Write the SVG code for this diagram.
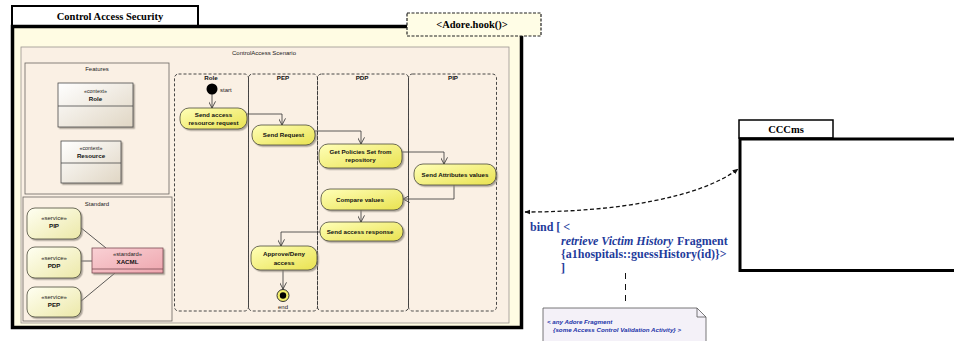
<svg xmlns="http://www.w3.org/2000/svg" width="954" height="341" viewBox="0 0 954 341">
  <defs>
    <linearGradient id="gAction" x1="0" y1="0" x2="1" y2="1">
      <stop offset="0" stop-color="#FFFFB8"/>
      <stop offset="1" stop-color="#E9E250"/>
    </linearGradient>
    <linearGradient id="gService" x1="0" y1="0" x2="1" y2="1">
      <stop offset="0" stop-color="#FFFFF2"/>
      <stop offset="1" stop-color="#ECE8A8"/>
    </linearGradient>
    <linearGradient id="gClass" x1="0" y1="0" x2="1" y2="1">
      <stop offset="0" stop-color="#FFFFFF"/>
      <stop offset="1" stop-color="#E0D6C4"/>
    </linearGradient>
    <linearGradient id="gStd" x1="0" y1="0" x2="1" y2="1">
      <stop offset="0" stop-color="#F9D0D4"/>
      <stop offset="1" stop-color="#EEA6AE"/>
    </linearGradient>
    <filter id="shadow" x="-20%" y="-20%" width="150%" height="160%">
      <feDropShadow dx="1.5" dy="1.5" stdDeviation="0.7" flood-color="#8a8478" flood-opacity="0.7"/>
    </filter>
    <marker id="open" viewBox="0 0 10 10" refX="9.5" refY="5" markerWidth="7" markerHeight="7" orient="auto" markerUnits="userSpaceOnUse">
      <path d="M0,0 L9.5,5 L0,10" fill="none" stroke="#333" stroke-width="1.2"/>
    </marker>
    <marker id="solid" viewBox="0 0 10 10" refX="9" refY="5" markerWidth="6" markerHeight="6" orient="auto-start-reverse" markerUnits="userSpaceOnUse">
      <path d="M0,1 L10,5 L0,9 Z" fill="#111"/>
    </marker>
  </defs>
  <style>
    .pkgTitle { font-family: "Liberation Serif", serif; font-weight: bold; font-size: 10.5px; text-anchor: middle; fill: #000; }
    .frameLbl { font-family: "Liberation Sans", Arial, sans-serif; font-size: 6px; text-anchor: middle; fill: #222; }
    .stereo { font-family: "Liberation Sans", Arial, sans-serif; font-size: 5.3px; text-anchor: middle; fill: #222; }
    .nm { font-family: "Liberation Sans", Arial, sans-serif; font-size: 6.2px; font-weight: bold; text-anchor: middle; fill: #111; }
    .lane { fill: none; stroke: #333; stroke-width: 0.9; stroke-dasharray: 3 2; }
    .action { fill: url(#gAction); stroke: #4a4a3a; stroke-width: 0.8; filter: url(#shadow); }
    .service { fill: url(#gService); stroke: #4a4a3a; stroke-width: 0.8; filter: url(#shadow); }
    .cls { fill: url(#gClass); stroke: #4a4a4a; stroke-width: 0.8; filter: url(#shadow); }
    .flow { fill: none; stroke: #333; stroke-width: 0.8; marker-end: url(#open); }
    .assoc { fill: none; stroke: #333; stroke-width: 0.8; }
    .bind { font-family: "Liberation Serif", serif; font-weight: bold; font-size: 12px; fill: #1F3C9C; }
    .note { font-family: "Liberation Sans", Arial, sans-serif; font-weight: bold; font-style: italic; font-size: 6.2px; fill: #2233A8; }
  </style>

  <!-- Control Access Security package -->
  <g id="pkg-control-access-security">
    <rect x="12" y="6" width="186" height="20" fill="#fff" stroke="#000" stroke-width="2"/>
    <text class="pkgTitle" x="110" y="20">Control Access Security</text>
    <rect x="12.5" y="26.5" width="509" height="301" fill="#FFFCE3" stroke="#000" stroke-width="3.5"/>
  </g>

  <!-- hook label over the package corner -->
  <g id="adore-hook">
    <rect x="407" y="13" width="134" height="23" fill="#FFFDE6" stroke="#222" stroke-width="1.2" stroke-dasharray="3 1.5"/>
    <text class="pkgTitle" x="472" y="28">&lt;Adore.hook()&gt;</text>
  </g>

  <!-- scenario frame -->
  <g id="frame-scenario">
    <rect x="21" y="47" width="488" height="276" fill="#FAF0E4" stroke="#9a9490" stroke-width="0.8"/>
    <text class="frameLbl" x="264" y="55">ControlAccess Scenario</text>
  </g>

  <!-- Features -->
  <g id="frame-features">
    <rect x="25" y="63" width="144" height="131" fill="#FAF0E4" stroke="#6a6560" stroke-width="0.8"/>
    <text class="frameLbl" x="97" y="71">Features</text>
  </g>
  <g id="class-role">
    <rect class="cls" x="58" y="83" width="75" height="44"/>
    <line x1="58" y1="106" x2="133" y2="106" stroke="#4a4a4a" stroke-width="0.8"/>
    <text class="stereo" x="95.5" y="93">«context»</text>
    <text class="nm" x="95.5" y="100.5">Role</text>
  </g>
  <g id="class-resource">
    <rect class="cls" x="61" y="141" width="60" height="42"/>
    <line x1="61" y1="163" x2="121" y2="163" stroke="#4a4a4a" stroke-width="0.8"/>
    <text class="stereo" x="91" y="150">«context»</text>
    <text class="nm" x="91" y="158">Resource</text>
  </g>

  <!-- Standard -->
  <g id="frame-standard">
    <rect x="23" y="197" width="149" height="124" fill="#FAF0E4" stroke="#6a6560" stroke-width="0.8"/>
    <text class="frameLbl" x="97" y="206">Standard</text>
  </g>

  <g id="connectors-standard">
    <line class="assoc" x1="80" y1="227" x2="106" y2="248"/>
    <line class="assoc" x1="81" y1="261" x2="92" y2="261"/>
    <line class="assoc" x1="80" y1="302" x2="115" y2="273"/>
  </g>

  <g id="service-pip">
    <rect class="service" x="27" y="208" width="54" height="31" rx="8"/>
    <text class="stereo" x="54" y="220" style="font-size:6px">«service»</text>
    <text class="nm" x="54" y="228">PIP</text>
  </g>
  <g id="service-pdp">
    <rect class="service" x="27" y="247" width="54" height="31" rx="8"/>
    <text class="stereo" x="54" y="260" style="font-size:6px">«service»</text>
    <text class="nm" x="54" y="268">PDP</text>
  </g>
  <g id="service-pep">
    <rect class="service" x="27" y="287" width="54" height="30" rx="8"/>
    <text class="stereo" x="54" y="299" style="font-size:6px">«service»</text>
    <text class="nm" x="54" y="307">PEP</text>
  </g>
  <g id="standard-xacml">
    <rect x="92" y="248" width="71" height="25" fill="url(#gStd)" stroke="#7a4a52" stroke-width="0.8" filter="url(#shadow)"/>
    <line x1="92" y1="269" x2="163" y2="269" stroke="#7a4a52" stroke-width="0.8"/>
    <text class="stereo" x="127.5" y="256" style="font-size:5.8px">«standard»</text>
    <text class="nm" x="127.5" y="264">XACML</text>
  </g>

  <!-- swimlanes -->
  <g id="lane-role">
    <rect class="lane" x="174.5" y="74" width="74" height="237" rx="4"/>
    <text class="nm" x="211" y="80">Role</text>
  </g>
  <g id="lane-pep">
    <rect class="lane" x="248.5" y="74" width="69" height="237" rx="4"/>
    <text class="nm" x="283" y="80">PEP</text>
  </g>
  <g id="lane-pdp">
    <rect class="lane" x="317.5" y="74" width="91" height="237" rx="4"/>
    <text class="nm" x="362" y="80">PDP</text>
  </g>
  <g id="lane-pip">
    <rect class="lane" x="408.5" y="74" width="88" height="237" rx="4"/>
    <text class="nm" x="453" y="80">PIP</text>
  </g>

  <!-- control flow -->
  <g id="connectors">
    <line class="flow" x1="212" y1="94" x2="212" y2="108"/>
    <polyline class="flow" points="247,114 282,114 282,125"/>
    <polyline class="flow" points="315,131 361,131 361,144"/>
    <polyline class="flow" points="402,152 444,152 444,164"/>
    <polyline class="flow" points="454,185 454,199 403,199"/>
    <line class="flow" x1="361" y1="210" x2="361" y2="222"/>
    <polyline class="flow" points="320,232 281,232 281,246"/>
    <line class="flow" x1="283" y1="270" x2="283" y2="289"/>
    <path d="M525,212 C615,212 700,198 738,169" fill="none" stroke="#111" stroke-width="1.3" stroke-dasharray="4 2.5" marker-start="url(#solid)" marker-end="url(#solid)"/>
    <line x1="625.5" y1="273" x2="625.5" y2="305" stroke="#111" stroke-width="1" stroke-dasharray="6 5"/>
  </g>

  <g id="node-start">
    <circle cx="212" cy="89" r="5.5" fill="#000"/>
    <text class="stereo" x="220" y="92" style="text-anchor:start;font-size:6px">start</text>
  </g>
  <g id="act-send-access">
    <rect class="action" x="180" y="108" width="67" height="21" rx="9"/>
    <text class="nm" x="213.5" y="117">Send access</text>
    <text class="nm" x="213.5" y="125">resource request</text>
  </g>
  <g id="act-send-request">
    <rect class="action" x="252" y="125" width="63" height="20" rx="9"/>
    <text class="nm" x="283.5" y="137">Send Request</text>
  </g>
  <g id="act-get-policies">
    <rect class="action" x="319" y="144" width="83" height="24" rx="9"/>
    <text class="nm" x="360.5" y="154">Get Policies  Set from</text>
    <text class="nm" x="360.5" y="162">repository</text>
  </g>
  <g id="act-send-attributes">
    <rect class="action" x="414" y="164" width="82" height="21" rx="9"/>
    <text class="nm" x="455" y="176.5">Send Attributes values</text>
  </g>
  <g id="act-compare">
    <rect class="action" x="321" y="189" width="82" height="21" rx="9"/>
    <text class="nm" x="360" y="201.5">Compare values</text>
  </g>
  <g id="act-send-response">
    <rect class="action" x="320" y="222" width="83" height="19" rx="9"/>
    <text class="nm" x="360" y="233.5">Send access response</text>
  </g>
  <g id="act-approve">
    <rect class="action" x="251" y="246" width="66" height="24" rx="9"/>
    <text class="nm" x="284" y="256">Approve/Deny</text>
    <text class="nm" x="284" y="264.5">access</text>
  </g>
  <g id="node-end">
    <circle cx="283" cy="295.5" r="6" fill="#F3EE6A" stroke="#333" stroke-width="1"/>
    <circle cx="283" cy="295.5" r="3.2" fill="#000"/>
    <text class="stereo" x="283" y="309" style="font-size:6px">end</text>
  </g>

  <!-- binding label -->
  <g id="bind-label">
    <text class="bind" x="530" y="230.5">bind [ &lt;</text>
    <text class="bind" x="561" y="244.5" font-style="italic">retrieve Victim History</text>
    <text class="bind" x="677" y="244.5">Fragment</text>
    <text class="bind" x="561" y="258">{a1hospitals::guessHistory(id)}&gt;</text>
    <text class="bind" x="561" y="271.5">]</text>
  </g>

  <!-- note -->
  <g id="note-fragment">
    <path d="M543,308 H697 L706,317 V345 H543 Z" fill="#F4F1F8" stroke="#555" stroke-width="0.8"/>
    <path d="M697,308 V317 H706" fill="none" stroke="#555" stroke-width="0.8"/>
    <text class="note" x="547" y="324">&lt; any Adore Fragment</text>
    <text class="note" x="553" y="332">{some Access  Control Validation Activity} &gt;</text>
  </g>

  <!-- CCCms package -->
  <g id="pkg-cccms">
    <rect x="739" y="120" width="94" height="18" fill="#fff" stroke="#000" stroke-width="1.5"/>
    <text class="pkgTitle" x="786" y="133">CCCms</text>
    <rect x="740" y="139" width="230" height="131.5" fill="#fff" stroke="#000" stroke-width="3"/>
  </g>
</svg>
